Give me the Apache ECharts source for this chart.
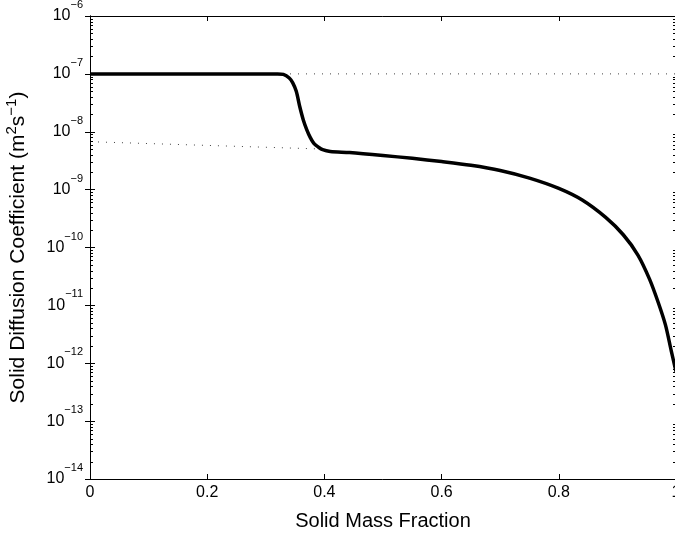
<!DOCTYPE html>
<html>
<head>
<meta charset="utf-8">
<style>html,body{margin:0;padding:0;background:#fff;}#chart{width:675px;height:534px;}</style>
<script src="https://cdn.jsdelivr.net/npm/echarts@6/dist/echarts.min.js"></script>
</head>
<body>
<div id="chart"></div>
<script>
// Solid mass fraction (x) and solid diffusion coefficient (m^2 s^-1)
var massFraction = [0, 0.1, 0.2, 0.3, 0.32, 0.33, 0.34, 0.346, 0.352, 0.358, 0.364, 0.37, 0.376, 0.382, 0.39, 0.397, 0.41, 0.443, 0.5, 0.55, 0.6, 0.65, 0.7, 0.75, 0.8, 0.84, 0.88, 0.91, 0.935, 0.955, 0.97, 0.982, 0.992, 1.0];
var diffusion = [1e-7, 1e-7, 1e-7, 1e-7, 1e-7, 9.8e-8, 8.5e-8, 7.0e-8, 5.0e-8, 2.7e-8, 1.6e-8, 1.08e-8, 7.9e-9, 6.3e-9, 5.4e-9, 4.9e-9, 4.57e-9, 4.37e-9, 3.89e-9, 3.47e-9, 3.05e-9, 2.63e-9, 2.14e-9, 1.58e-9, 1.05e-9, 6.61e-10, 3.31e-10, 1.66e-10, 7.41e-11, 2.82e-11, 1.1e-11, 4.6e-12, 1.62e-12, 7.2e-13];
// Dotted reference lines
var upperRefX = [0, 1];
var upperRefY = [1e-7, 1e-7];
var lowerRefX = [0, 0.39];
var lowerRefY = [6.73e-9, 5.05e-9];
// Axis settings
var xTicks = [0, 0.2, 0.4, 0.6, 0.8, 1];
var yExponents = [-14, -13, -12, -11, -10, -9, -8, -7, -6];

function pairs(xs, ys) { return xs.map(function (x, i) { return [x, ys[i]]; }); }

var minorTickValues = [];
for (var e = -14; e < -6; e++) {
  for (var m = 2; m <= 9; m++) minorTickValues.push(m * Math.pow(10, e));
}

var FONT = 'Liberation Sans, Arial, Helvetica, sans-serif';
var chart = echarts.init(document.getElementById('chart'));

var yLabelFmt = function (v) {
  var ex = Math.round(Math.log10(v));
  return '{b|10}{s|' + (ex < 0 ? '\u2212' + (-ex) : ex) + '}';
};

var axisLine = { show: true, lineStyle: { color: '#000', width: 1 } };

chart.setOption({
  animation: false,
  backgroundColor: '#fff',
  grid: { left: 90, right: -1, top: 16, bottom: 55, containLabel: false, outerBoundsMode: 'none' },
  xAxis: [{
    type: 'value', min: 0, max: 1, interval: 0.2, position: 'bottom',
    axisLine: axisLine,
    axisTick: { show: true, inside: true, length: 5, lineStyle: { color: '#000' } },
    splitLine: { show: false },
    axisLabel: { color: '#000', fontFamily: FONT, fontSize: 16, margin: 6, hideOverlap: false,
      formatter: function (v) { return String(Math.round(v * 10) / 10); } },
    name: 'Solid Mass Fraction', nameLocation: 'middle', nameGap: 32,
    nameTextStyle: { color: '#000', fontFamily: FONT, fontSize: 20 }
  }, {
    type: 'value', min: 0, max: 1, interval: 0.2, position: 'top',
    axisLine: axisLine,
    axisTick: { show: true, inside: true, length: 5, lineStyle: { color: '#000' } },
    splitLine: { show: false }, axisLabel: { show: false }
  }],
  yAxis: [{
    type: 'log', logBase: 10, min: 1e-14, max: 1e-6, position: 'left',
    axisLine: axisLine,
    axisTick: { show: true, inside: true, length: 5, lineStyle: { color: '#000' } },
    splitLine: { show: false },
    axisLabel: { margin: 7, formatter: yLabelFmt, rich: {
      b: { color: '#000', fontFamily: FONT, fontSize: 16 },
      s: { color: '#000', fontFamily: FONT, fontSize: 11, padding: [0, 0, 22, 0] }
    } },
    name: 'Solid Diffusion Coefficient (m{s|2}s{s|\u22121})', nameLocation: 'middle', nameGap: 57,
    nameTextStyle: { color: '#000', fontFamily: FONT, fontSize: 21, rich: {
      s: { color: '#000', fontFamily: FONT, fontSize: 15, padding: [0, 0, 14, 0] }
    } }
  }, {
    type: 'log', logBase: 10, min: 1e-14, max: 1e-6, position: 'right',
    axisLine: axisLine,
    axisTick: { show: true, inside: true, length: 5, lineStyle: { color: '#000' } },
    splitLine: { show: false }, axisLabel: { show: false }
  }],
  series: [{
    type: 'line', data: pairs(upperRefX, upperRefY), showSymbol: false, symbol: 'none',
    lineStyle: { color: '#444', width: 1, type: [1, 7] }, z: 1
  }, {
    type: 'line', data: pairs(lowerRefX, lowerRefY), showSymbol: false, symbol: 'none',
    lineStyle: { color: '#444', width: 1, type: [1, 7] }, z: 1
  }, {
    type: 'line', data: pairs(massFraction, diffusion), showSymbol: false, symbol: 'none',
    smooth: 0.3,
    lineStyle: { color: '#000', width: 3.5 }, z: 3
  }, {
    type: 'custom', silent: true, clip: false, z: 4,
    data: minorTickValues.map(function (v) { return [0, v]; }),
    renderItem: function (params, api) {
      var p = api.coord([0, api.value(1)]);
      var cs = params.coordSys;
      var y = Math.round(p[1]) + 0.5;
      return { type: 'group', children: [
        { type: 'line', shape: { x1: cs.x, y1: y, x2: cs.x + 3, y2: y }, style: { stroke: '#000', lineWidth: 1 } },
        { type: 'line', shape: { x1: cs.x + cs.width - 3, y1: y, x2: cs.x + cs.width, y2: y }, style: { stroke: '#000', lineWidth: 1 } }
      ] };
    }
  }]
});
</script>
</body>
</html>
